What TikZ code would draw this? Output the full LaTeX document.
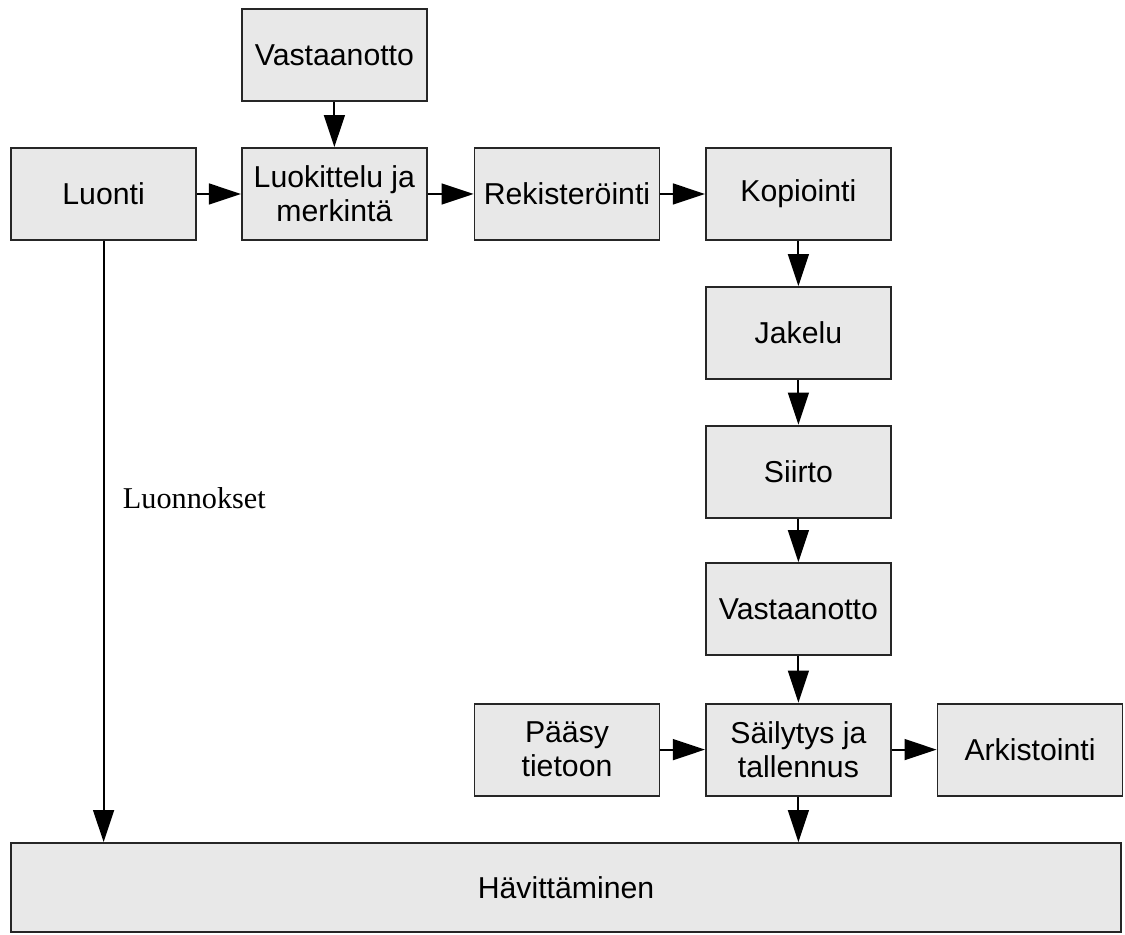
\documentclass[tikz,border=0pt]{standalone}
\usepackage{fontspec}
\setmainfont{Liberation Sans}
\newfontfamily\serifbox{Liberation Serif}
\usetikzlibrary{arrows.meta}
\definecolor{boxgray}{RGB}{232,232,232}
\tikzset{
    stage/.style={draw=black!85, fill=boxgray, line width=1.3pt, minimum width=4.625cm, minimum height=2.3cm, align=center, inner sep=0pt, font=\fontsize{21.5}{24}\selectfont},
    flow/.style={line width=1.4pt, -{Triangle[length=0.8cm,width=0.52cm]}}
}
\begin{document}
\begin{tikzpicture}
            \useasboundingbox (0,0) rectangle (28.125,23.35);
            \coordinate (V1) at (8.36,21.975);
            \coordinate (LU) at (2.59,18.5);
            \coordinate (LM) at (8.36,18.5);
            \coordinate (RE) at (14.175,18.5);
            \coordinate (KO) at (19.96,18.5);
            \coordinate (JA) at (19.96,15.025);
            \coordinate (SI) at (19.96,11.56);
            \coordinate (V2) at (19.96,8.125);
            \coordinate (PA) at (14.175,4.61);
            \coordinate (ST) at (19.96,4.61);
            \coordinate (AR) at (25.75,4.61);
            \coordinate (HA) at (14.15,1.1625);
            \node[stage] (vastaanotto1) at (V1) {Vastaanotto};
            \node[stage] (luonti) at (LU) {Luonti};
            \node[stage] (luokittelu) at (LM) {Luokittelu ja\\merkintä};
            \node[stage] (rekisterointi) at (RE) {Rekisteröinti};
            \node[stage] (kopiointi) at (KO) {Kopiointi};
            \node[stage] (jakelu) at (JA) {Jakelu};
            \node[stage] (siirto) at (SI) {Siirto};
            \node[stage] (vastaanotto2) at (V2) {Vastaanotto};
            \node[stage] (paasy) at (PA) {Pääsy\\tietoon};
            \node[stage] (sailytys) at (ST) {Säilytys ja\\tallennus};
            \node[stage] (arkistointi) at (AR) {Arkistointi};
            \node[stage, minimum width=27.75cm, minimum height=2.225cm] (havittaminen) at (HA) {Hävittäminen};
            \node[font=\serifbox\fontsize{21.5}{24}\selectfont, anchor=west] (luonnokset) at (2.95,10.9) {Luonnokset};
            \draw[flow] (vastaanotto1) -- (luokittelu);
            \draw[flow] (luonti) -- (luokittelu);
            \draw[flow] (luokittelu) -- (rekisterointi);
            \draw[flow] (rekisterointi) -- (kopiointi);
            \draw[flow] (kopiointi) -- (jakelu);
            \draw[flow] (jakelu) -- (siirto);
            \draw[flow] (siirto) -- (vastaanotto2);
            \draw[flow] (vastaanotto2) -- (sailytys);
            \draw[flow] (paasy) -- (sailytys);
            \draw[flow] (sailytys) -- (arkistointi);
            \draw[flow] (sailytys) -- (sailytys |- havittaminen.north);
            \draw[flow] (luonti) -- (luonti |- havittaminen.north);
        \end{tikzpicture}
\end{document}
